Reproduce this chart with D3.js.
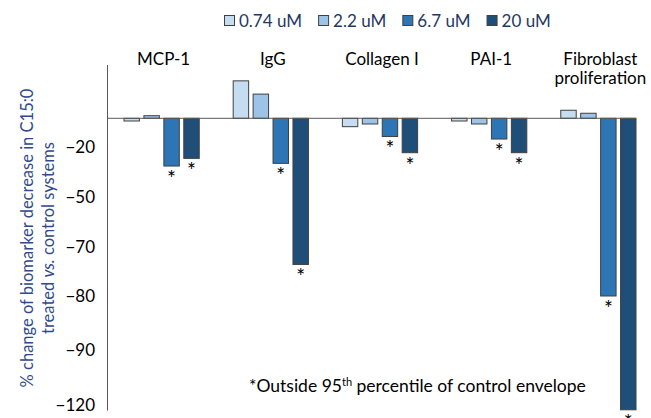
<!DOCTYPE html>
<html>
<head>
<meta charset="utf-8">
<script src="https://cdn.jsdelivr.net/npm/d3@7"></script>
<style>
  body { margin: 0; background: #fff; }
  text { font-family: Lato, 'Open Sans', sans-serif; }
</style>
</head>
<body>
<svg id="chart" width="651" height="418"></svg>
<script>
// values (% change vs control)
const categories = ['MCP-1', 'IgG', 'Collagen I', 'PAI-1', 'Fibroblast\nproliferation']
const series = ['0.74 uM', '2.2 uM', '6.7 uM', '20 uM']
const dose074 = [-1.9, 26, -5.9, -1.9, 5.6]
const dose22 = [1.8, 16.8, -4.0, -4.0, 3.5]
const dose67 = [-31.6, -30, -12.8, -14.6, -80]
const dose20 = [-27, -73.6, -23.6, -23.6, -123]
// * = outside 95th percentile of control envelope
const star074 = [false, false, false, false, false]
const star22 = [false, false, false, false, false]
const star67 = [true, true, true, true, true]
const star20 = [true, true, true, true, true]
const yTicks = [-20, -50, -70, -80, -90, -120]

const colors = ['#c5dcf1', '#9dc3e6', '#2e75b6', '#1f4e79']
const seriesValues = [dose074, dose22, dose67, dose20]
const seriesStars = [star074, star22, star67, star20]

const rows = []
categories.forEach((c, i) => {
  series.forEach((s, j) => {
    rows.push({cat: c, series: s, value: seriesValues[j][i], star: seriesStars[j][i], color: colors[j]})
  })
})

const svg = d3.select('#chart')

// the original axis is not evenly spaced, so use a piecewise linear scale
const yDomain = [37, 0].concat(yTicks, [-123.5])
const yRange = [65, 118.3, 146.7, 196.7, 246.7, 296, 350, 405.5, 410.5]
const y = d3.scaleLinear().domain(yDomain).range(yRange)

const x0 = d3.scaleBand()
  .domain(categories)
  .range([124, 636])
  .paddingInner(0.311)
  .paddingOuter(0)

const x1 = d3.scaleBand()
  .domain(series)
  .range([0, x0.bandwidth()])
  .paddingInner(0.225)

// bars
svg.append('g')
  .attr('class', 'bars')
  .selectAll('rect')
  .data(rows)
  .enter().append('rect')
  .attr('x', d => x0(d.cat) + x1(d.series))
  .attr('y', d => Math.min(y(d.value), y(0)))
  .attr('width', x1.bandwidth())
  .attr('height', d => Math.abs(y(d.value) - y(0)))
  .attr('fill', d => d.color)
  .attr('stroke', '#404040')
  .attr('stroke-width', 1)

// significance stars
svg.append('g')
  .attr('class', 'stars')
  .selectAll('text')
  .data(rows.filter(d => d.star))
  .enter().append('text')
  .attr('x', d => x0(d.cat) + x1(d.series) + x1.bandwidth() / 2)
  .attr('y', d => y(d.value) + 20)
  .attr('text-anchor', 'middle')
  .attr('font-size', 21)
  .attr('fill', '#000')
  .text('*')

// axes
svg.append('line')
  .attr('x1', 107.5).attr('x2', 107.5)
  .attr('y1', y(37)).attr('y2', y(-123.5))
  .attr('stroke', '#595959')

svg.append('line')
  .attr('x1', 107).attr('x2', 636)
  .attr('y1', y(0)).attr('y2', y(0))
  .attr('stroke', '#595959')

const yAxis = d3.axisLeft(y).tickValues(yTicks).tickSize(0).tickPadding(12)
const yg = svg.append('g')
  .attr('transform', 'translate(107,0)')
  .call(yAxis)
yg.select('.domain').remove()
yg.selectAll('text')
  .attr('font-size', 17)
  .attr('fill', '#000')
  .style('font-family', 'Lato, sans-serif')

// category labels along the top
svg.append('g')
  .attr('class', 'cats')
  .selectAll('text')
  .data(categories)
  .enter().append('text')
  .attr('x', d => x0(d) + x0.bandwidth() / 2)
  .attr('y', 65)
  .attr('text-anchor', 'middle')
  .attr('font-size', 17)
  .attr('fill', '#000')
  .each(function (d) {
    const t = d3.select(this)
    d.split('\n').forEach((line, i) => {
      t.append('tspan')
        .attr('x', x0(d) + x0.bandwidth() / 2 + 2)
        .attr('dy', i === 0 ? 0 : 19)
        .text(line)
    })
  })

// legend
const legend = svg.append('g').attr('class', 'legend')
let lx = 224
series.forEach((s, i) => {
  legend.append('rect')
    .attr('x', lx + 0.5).attr('y', 15.5)
    .attr('width', 10).attr('height', 10)
    .attr('fill', colors[i])
    .attr('stroke', '#404040')
  const t = legend.append('text')
    .attr('x', lx + 15)
    .attr('y', 26.5)
    .attr('font-size', 17)
    .attr('fill', '#1f3864')
    .text(s)
  lx += 15 + t.node().getComputedTextLength() + 16
})

// y axis title
const yTitle = svg.append('text')
  .attr('transform', 'translate(33,238) rotate(-90)')
  .attr('text-anchor', 'middle')
  .attr('font-size', 16.5)
  .attr('fill', '#2f4a8c')
yTitle.append('tspan')
  .attr('x', 0).attr('y', 0)
  .text('% change of biomarker decrease in C15:0')
const line2 = yTitle.append('tspan')
  .attr('x', 0).attr('y', 21)
line2.append('tspan').text('treated ')
line2.append('tspan').attr('font-style', 'italic').text('vs.')
line2.append('tspan').text(' control systems')

// footnote
const note = svg.append('text')
  .attr('x', 249)
  .attr('y', 392)
  .attr('font-size', 17.5)
  .attr('fill', '#000')
note.append('tspan').text('*Outside 95')
note.append('tspan').attr('font-size', 11).attr('dy', -6).text('th')
note.append('tspan').attr('dy', 6).text(' percentile of control envelope')
</script>
</body>
</html>
